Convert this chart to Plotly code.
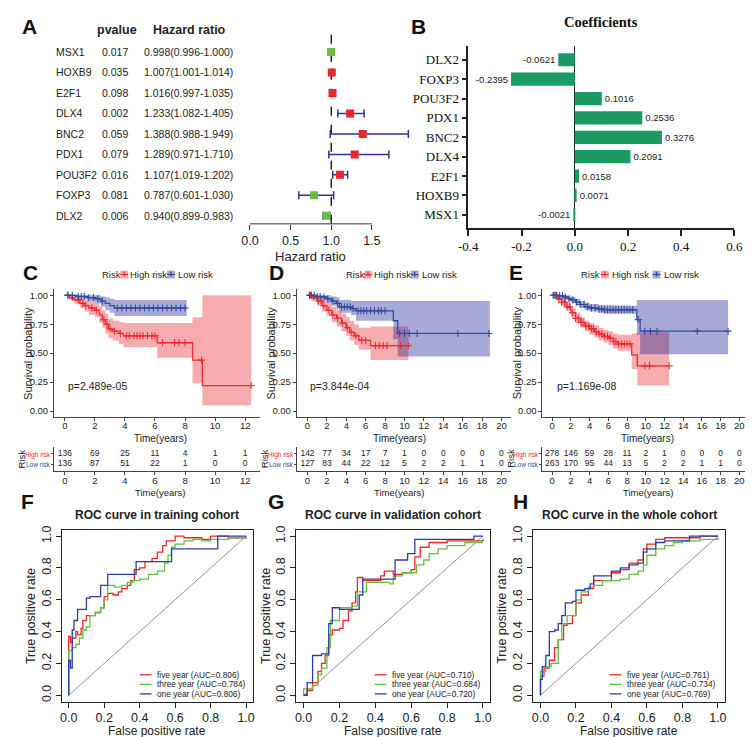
import numpy as np
import plotly.graph_objects as go

W, H = 753, 737

# ---------------- Panel A : univariate Cox forest ----------------
genes_a = ["MSX1", "HOXB9", "E2F1", "DLX4", "BNC2", "PDX1", "POU3F2", "FOXP3", "DLX2"]
pvals_a = ["0.017", "0.035", "0.098", "0.002", "0.059", "0.079", "0.016", "0.081", "0.006"]
hr_a = [0.998, 1.007, 1.016, 1.233, 1.388, 1.289, 1.107, 0.787, 0.940]
hr_lo = [0.996, 1.001, 0.997, 1.082, 0.988, 0.971, 1.019, 0.601, 0.899]
hr_hi = [1.000, 1.014, 1.035, 1.405, 1.949, 1.710, 1.202, 1.030, 0.983]
hr_ticks = [0.0, 0.5, 1.0, 1.5]

# ---------------- Panel B : coefficients ----------------
genes_b = ["DLX2", "FOXP3", "POU3F2", "PDX1", "BNC2", "DLX4", "E2F1", "HOXB9", "MSX1"]
coef_b = [-0.0621, -0.2395, 0.1016, 0.2536, 0.3276, 0.2091, 0.0158, 0.0071, -0.0021]
coef_ticks = [-0.4, -0.2, 0.0, 0.2, 0.4, 0.6]

# ---------------- Panels C-E : Kaplan-Meier ----------------
C_high_t = [0, 0.3, 0.6, 1.0, 1.3, 1.6, 2.0, 2.3, 2.5, 2.7, 2.9, 3.2, 3.6, 3.9, 6.15, 8.5, 9.15, 12.4]
C_high_s = [1.0, 0.98, 0.96, 0.93, 0.91, 0.89, 0.87, 0.83, 0.79, 0.75, 0.71, 0.69, 0.67, 0.65, 0.59, 0.44, 0.22, 0.22]
C_high_lo = [1.0, 0.96, 0.93, 0.89, 0.86, 0.83, 0.81, 0.76, 0.72, 0.67, 0.63, 0.61, 0.58, 0.55, 0.46, 0.24, 0.05, 0.05]
C_high_hi = [1.0, 1.0, 0.99, 0.97, 0.96, 0.95, 0.93, 0.9, 0.87, 0.84, 0.8, 0.78, 0.77, 0.76, 0.76, 0.81, 1.0, 1.0]
C_high_cens = [0.2, 0.5, 0.9, 1.2, 1.4, 1.8, 2.1, 2.6, 2.8, 3.0, 3.3, 3.7, 4.1, 4.3, 4.6, 4.8, 5.0, 5.2,
               5.5, 5.8, 6.0, 6.5, 7.3, 7.6, 8.0, 9.1, 12.4]
C_low_t = [0, 0.8, 1.5, 2.0, 2.4, 2.7, 3.0, 3.3, 8.1]
C_low_s = [1.0, 0.99, 0.98, 0.97, 0.95, 0.93, 0.91, 0.89, 0.89]
C_low_lo = [1.0, 0.97, 0.95, 0.93, 0.9, 0.87, 0.85, 0.82, 0.82]
C_low_hi = [1.0, 1.0, 1.0, 1.0, 0.99, 0.98, 0.97, 0.96, 0.96]
C_low_cens = [0.2, 0.5, 0.9, 1.1, 1.3, 1.6, 1.9, 2.2, 2.5, 3.5, 3.8, 4.1, 4.4, 4.7, 5.0, 5.3, 5.6, 5.9,
              6.2, 6.5, 6.8, 7.1, 7.4, 7.7, 8.0]

D_high_t = [0, 0.5, 1.0, 1.5, 2.0, 2.5, 3.0, 3.5, 4.0, 4.35, 4.8, 5.3, 6.5, 10.4]
D_high_s = [1.0, 0.98, 0.95, 0.91, 0.87, 0.83, 0.80, 0.76, 0.72, 0.68, 0.65, 0.61, 0.565, 0.565]
D_high_lo = [1.0, 0.96, 0.91, 0.86, 0.82, 0.77, 0.73, 0.69, 0.65, 0.61, 0.57, 0.53, 0.44, 0.44]
D_high_hi = [1.0, 1.0, 0.99, 0.96, 0.93, 0.9, 0.87, 0.84, 0.81, 0.78, 0.75, 0.72, 0.73, 0.73]
D_high_cens = [0.3, 0.6, 1.1, 1.4, 1.7, 2.2, 2.6, 3.1, 3.6, 4.1, 4.5, 5.0, 5.6, 6.0, 7.0, 7.4, 7.8, 8.2,
               9.6, 10.4]
D_low_t = [0, 0.8, 1.5, 2.0, 2.5, 3.0, 3.3, 4.5, 5.0, 8.85, 9.3, 18.8]
D_low_s = [1.0, 0.99, 0.985, 0.97, 0.95, 0.93, 0.90, 0.885, 0.866, 0.78, 0.67, 0.67]
D_low_lo = [1.0, 0.97, 0.96, 0.93, 0.91, 0.88, 0.85, 0.83, 0.78, 0.62, 0.47, 0.47]
D_low_hi = [1.0, 1.0, 1.0, 1.0, 0.99, 0.98, 0.96, 0.95, 0.95, 0.95, 0.95, 0.95]
D_low_cens = [0.2, 0.4, 0.7, 1.0, 1.3, 1.7, 2.1, 2.6, 3.1, 3.5, 3.8, 4.1, 4.4, 4.7, 5.2, 5.5, 5.8, 6.1,
              6.5, 6.9, 7.3, 7.6, 8.0, 9.5, 10.0, 10.5, 11.3, 15.5, 18.7]

E_high_t = [0, 0.5, 1.0, 1.5, 2.0, 2.5, 3.0, 3.5, 4.0, 4.5, 5.0, 5.5, 6.0, 6.5, 7.0, 8.5, 9.1, 12.5]
E_high_s = [1.0, 0.97, 0.94, 0.9, 0.85, 0.8, 0.765, 0.735, 0.71, 0.685, 0.665, 0.645, 0.63, 0.6, 0.58, 0.485, 0.39, 0.39]
E_high_lo = [1.0, 0.95, 0.91, 0.87, 0.81, 0.76, 0.72, 0.69, 0.66, 0.635, 0.61, 0.59, 0.57, 0.54, 0.52, 0.36, 0.22, 0.22]
E_high_hi = [1.0, 0.99, 0.97, 0.94, 0.89, 0.85, 0.81, 0.78, 0.76, 0.74, 0.72, 0.70, 0.69, 0.67, 0.66, 0.67, 0.68, 0.68]
E_high_cens = [0.2, 0.4, 0.7, 1.0, 1.3, 1.6, 1.9, 2.2, 2.5, 2.8, 3.1, 3.3, 3.6, 3.9, 4.2, 4.4, 4.7, 5.0,
               5.3, 5.6, 5.9, 6.2, 6.6, 6.8, 7.1, 7.4, 7.7, 8.0, 8.3, 9.9, 10.4, 12.5]
E_low_t = [0, 0.7, 1.2, 1.7, 2.0, 2.5, 3.0, 3.5, 4.0, 5.0, 5.5, 9.05, 9.4, 18.8]
E_low_s = [1.0, 0.995, 0.985, 0.97, 0.96, 0.94, 0.92, 0.90, 0.89, 0.88, 0.875, 0.79, 0.69, 0.69]
E_low_lo = [1.0, 0.985, 0.97, 0.95, 0.94, 0.915, 0.89, 0.87, 0.86, 0.85, 0.84, 0.66, 0.49, 0.49]
E_low_hi = [1.0, 1.0, 1.0, 0.99, 0.985, 0.97, 0.95, 0.935, 0.925, 0.915, 0.91, 0.96, 0.96, 0.96]
E_low_cens = [0.1, 0.3, 0.5, 0.8, 1.1, 1.4, 1.8, 2.2, 2.6, 3.0, 3.4, 3.8, 4.2, 4.6, 5.0, 5.3, 5.6, 5.9,
              6.2, 6.5, 6.8, 7.1, 7.4, 7.7, 8.0, 8.3, 8.6, 9.2, 9.9, 10.5, 11.2, 15.5, 18.8]

pvalue_text = ["p=2.489e-05", "p=3.844e-04", "p=1.169e-08"]
km_ticks_C = [0, 2, 4, 6, 8, 10, 12]
km_ticks_DE = [0, 2, 4, 6, 8, 10, 12, 14, 16, 18, 20]
surv_ticks = [0.0, 0.25, 0.5, 0.75, 1.0]
surv_ticklabels = ["0.00", "0.25", "0.50", "0.75", "1.00"]

# risk tables
risk_C_high = [136, 69, 25, 11, 4, 1, 1]
risk_C_low = [136, 87, 51, 22, 1, 0, 0]
risk_D_high = [142, 77, 34, 17, 7, 1, 0, 0, 0, 0, 0]
risk_D_low = [127, 83, 44, 22, 12, 5, 2, 2, 1, 1, 0]
risk_E_high = [278, 146, 59, 28, 11, 2, 1, 0, 0, 0, 0]
risk_E_low = [263, 170, 95, 44, 13, 5, 2, 2, 1, 1, 0]

# ---------------- Panels F-H : ROC ----------------
F_five_fpr = [0, 0, 0.01, 0.02, 0.04, 0.05, 0.07, 0.08, 0.1, 0.12, 0.15, 0.18, 0.2, 0.22, 0.25, 0.28, 0.3, 0.33,
              0.35, 0.37, 0.4, 0.43, 0.47, 0.5, 0.53, 0.55, 0.6, 0.65, 0.7, 0.75, 0.8, 0.85, 0.9, 0.95, 1.0]
F_five_tpr = [0, 0.37, 0.33, 0.36, 0.4, 0.38, 0.42, 0.47, 0.5, 0.5, 0.52, 0.55, 0.62, 0.64, 0.63, 0.65, 0.67, 0.69,
              0.72, 0.79, 0.8, 0.84, 0.86, 0.9, 0.94, 0.97, 1.0, 0.99, 0.99, 0.98, 1.0, 1.0, 0.99, 0.99, 1.0]
F_three_fpr = [0, 0, 0.02, 0.04, 0.06, 0.08, 0.1, 0.12, 0.15, 0.18, 0.2, 0.22, 0.26, 0.3, 0.33, 0.36, 0.4, 0.45,
               0.5, 0.54, 0.56, 0.58, 0.6, 0.65, 0.7, 0.75, 0.8, 0.9, 1.0]
F_three_tpr = [0, 0.28, 0.3, 0.32, 0.36, 0.41, 0.43, 0.5, 0.52, 0.55, 0.6, 0.69, 0.68, 0.69, 0.71, 0.72, 0.73, 0.76,
               0.78, 0.83, 0.88, 0.93, 0.95, 0.97, 0.98, 0.97, 0.98, 0.99, 1.0]
F_one_fpr = [0, 0, 0.01, 0.02, 0.02, 0.03, 0.05, 0.1, 0.12, 0.18, 0.22, 0.38, 0.58, 0.84, 1.0]
F_one_tpr = [0, 0.22, 0.17, 0.17, 0.41, 0.47, 0.54, 0.61, 0.62, 0.69, 0.76, 0.84, 0.92, 1.0, 1.0]

G_five_fpr = [0, 0.02, 0.05, 0.08, 0.1, 0.12, 0.14, 0.16, 0.2, 0.22, 0.25, 0.27, 0.29, 0.3, 0.33, 0.4, 0.43,
              0.45, 0.5, 0.55, 0.6, 0.62, 0.65, 0.7, 0.8, 0.9, 1.0]
G_five_tpr = [0, 0.03, 0.08, 0.15, 0.2, 0.25, 0.38, 0.41, 0.42, 0.47, 0.53, 0.58, 0.65, 0.74, 0.72, 0.72, 0.75,
              0.78, 0.76, 0.77, 0.79, 0.87, 0.93, 0.96, 0.97, 0.97, 0.98]
G_three_fpr = [0, 0, 0.05, 0.08, 0.1, 0.13, 0.15, 0.2, 0.27, 0.3, 0.35, 0.45, 0.48, 0.5, 0.55, 0.6, 0.63, 0.67,
               0.7, 0.75, 0.8, 0.9, 1.0]
G_three_tpr = [0, 0.04, 0.06, 0.13, 0.17, 0.3, 0.47, 0.55, 0.56, 0.65, 0.71, 0.71, 0.7, 0.75, 0.77, 0.77, 0.82,
               0.85, 0.89, 0.92, 0.94, 0.96, 0.96]
G_one_fpr = [0, 0.02, 0.05, 0.1, 0.14, 0.16, 0.2, 0.31, 0.33, 0.5, 0.51, 0.58, 0.62, 0.7, 0.95, 1.0]
G_one_tpr = [0, 0.08, 0.25, 0.26, 0.45, 0.55, 0.54, 0.63, 0.73, 0.73, 0.85, 0.89, 0.98, 0.98, 1.0, 1.0]

H_five_fpr = [0, 0, 0.02, 0.05, 0.08, 0.1, 0.13, 0.15, 0.18, 0.2, 0.23, 0.27, 0.3, 0.35, 0.4, 0.45, 0.5, 0.55,
              0.58, 0.6, 0.65, 0.7, 0.8, 0.9, 1.0]
H_five_tpr = [0, 0.12, 0.17, 0.22, 0.3, 0.35, 0.44, 0.45, 0.5, 0.58, 0.63, 0.67, 0.72, 0.72, 0.77, 0.79, 0.83,
              0.85, 0.92, 0.95, 0.98, 0.99, 0.99, 1.0, 1.0]
H_three_fpr = [0, 0, 0.03, 0.06, 0.1, 0.12, 0.15, 0.2, 0.23, 0.27, 0.3, 0.35, 0.4, 0.45, 0.5, 0.55, 0.58, 0.6,
               0.65, 0.7, 0.75, 0.8, 0.9, 1.0]
H_three_tpr = [0, 0.15, 0.18, 0.2, 0.35, 0.45, 0.5, 0.6, 0.65, 0.68, 0.69, 0.72, 0.72, 0.73, 0.76, 0.78, 0.82,
               0.88, 0.92, 0.94, 0.96, 0.97, 0.98, 0.99]
H_one_fpr = [0, 0, 0.01, 0.03, 0.05, 0.08, 0.1, 0.12, 0.14, 0.18, 0.2, 0.25, 0.28, 0.3, 0.35, 0.4, 0.45, 0.5,
             0.55, 0.58, 0.6, 0.65, 0.7, 0.84, 1.0]
H_one_tpr = [0, 0.1, 0.18, 0.25, 0.4, 0.41, 0.45, 0.5, 0.58, 0.59, 0.66, 0.67, 0.7, 0.75, 0.75, 0.78, 0.8, 0.82,
             0.83, 0.9, 0.92, 0.96, 0.97, 1.0, 1.0]

auc_F = [0.806, 0.784, 0.806]
auc_G = [0.710, 0.684, 0.720]
auc_H = [0.761, 0.734, 0.769]
roc_names = ["five year", "three year", "one year"]
roc_titles = ["ROC curve in training cohort", "ROC curve in validation cohort", "ROC curve in the whole cohort"]
roc_ticks = [0.0, 0.2, 0.4, 0.6, 0.8, 1.0]
diag = [0.0, 1.0]

# ---------------- styling ----------------
SANS = "Liberation Sans, Arial, sans-serif"
SERIF = "Liberation Serif, Times New Roman, serif"
RED_F, GREEN_F, NAVY = "#e8262b", "#6abd45", "#2e3192"
GREEN_B = "#1b9a64"
KM_RED, KM_BLUE = "#ec2a2f", "#2f4ea3"
KM_RED_FILL, KM_BLUE_FILL = "rgba(232,38,43,0.38)", "rgba(40,40,150,0.40)"
ROC_COLS = ["#f22525", "#62c141", "#2b3ea6"]
TXT = "#222222"


def xd(a, b):
    return [a / W, b / W]


def yd(top, bottom):
    return [1 - bottom / H, 1 - top / H]


def pxx(x):
    return x / W


def pxy(y):
    return 1 - y / H


annotations = []
shapes = []


def ann(text, x, y, size, color=TXT, family=SANS, xanchor="center", yanchor="middle", angle=0):
    annotations.append(dict(text=text, x=pxx(x), y=pxy(y), xref="paper", yref="paper", showarrow=False,
                            xanchor=xanchor, yanchor=yanchor, textangle=angle, borderpad=0,
                            font=dict(size=size, color=color, family=family)))


def hline(x0, x1, y, color, width=1.0):
    shapes.append(dict(type="line", xref="paper", yref="paper", x0=pxx(x0), x1=pxx(x1), y0=pxy(y), y1=pxy(y),
                       line=dict(color=color, width=width)))


def vline(x, y0, y1, color, width=1.0):
    shapes.append(dict(type="line", xref="paper", yref="paper", x0=pxx(x), x1=pxx(x), y0=pxy(y0), y1=pxy(y1),
                       line=dict(color=color, width=width)))


fig = go.Figure()
lay = {}

# ===================== Panel A =====================
A_x0, A_scale = 238.0, 83.33
A_rng = [-0.1, 2.0]
lay["xaxis"] = dict(domain=xd(A_x0 + A_rng[0] * A_scale, A_x0 + A_rng[1] * A_scale), range=A_rng, anchor="y",
                    tickvals=hr_ticks, ticktext=[f"{v:.1f}" for v in hr_ticks], ticks="outside", ticklen=5,
                    tickcolor="#333", showline=False, showgrid=False, zeroline=False,
                    tickfont=dict(size=12.5, family=SANS, color=TXT))
lay["yaxis"] = dict(domain=yd(15, 213), range=[-0.39, 9.22], anchor="x", showticklabels=False, ticks="",
                    showline=False, showgrid=False, zeroline=False)
rows_a = [8 - i for i in range(len(genes_a))]
shapes.append(dict(type="line", xref="x", yref="paper", x0=1.0, x1=1.0, y0=pxy(213), y1=pxy(15),
                   line=dict(color="black", width=1.3, dash="dash"), layer="below"))
shapes.append(dict(type="line", xref="x", yref="paper", x0=hr_ticks[0], x1=hr_ticks[-1], y0=pxy(213), y1=pxy(213),
                   line=dict(color="#333", width=1)))
fig.add_trace(go.Scatter(
    x=hr_a, y=rows_a, mode="markers", xaxis="x", yaxis="y",
    marker=dict(symbol="square", size=8, color=[RED_F if h > 1 else GREEN_F for h in hr_a]),
    error_x=dict(type="data", symmetric=False, array=[h - m for h, m in zip(hr_hi, hr_a)],
                 arrayminus=[m - l for m, l in zip(hr_a, hr_lo)], color=NAVY, thickness=1.5, width=4)))
row_px = [205 - 20.6 * r for r in rows_a]
for g, p, h, l, u, yy in zip(genes_a, pvals_a, hr_a, hr_lo, hr_hi, row_px):
    ann(g, 38, yy, 10.5, xanchor="left")
    ann(p, 85, yy, 10.5, xanchor="left")
    ann(f"{h:.3f}({l:.3f}-{u:.3f})", 128, yy, 10.5, xanchor="left")
ann("<b>pvalue</b>", 102, 18, 12.5)
ann("<b>Hazard ratio</b>", 176, 18, 12.5)
ann("Hazard ratio", 300, 246, 13)

# ===================== Panel B =====================
lay["xaxis2"] = dict(domain=xd(462, 735), range=[-0.4, 0.6], anchor="y2", tickvals=coef_ticks,
                     ticktext=[f"{v:.1f}" for v in coef_ticks], ticks="outside", ticklen=6, tickwidth=1.5,
                     tickcolor="#222", showline=True, linecolor="#222", linewidth=1.5, showgrid=False,
                     zeroline=True, zerolinecolor="#222", zerolinewidth=1.3,
                     tickfont=dict(size=13, family=SERIF, color="#111"))
lay["yaxis2"] = dict(domain=yd(34, 217), range=[-0.67, 8.72], anchor="x2", tickvals=[8 - i for i in range(9)],
                     ticktext=genes_b, ticks="outside", ticklen=5, tickwidth=1.5, tickcolor="#222",
                     showline=True, linecolor="#222", linewidth=1.5, showgrid=False, zeroline=False,
                     tickfont=dict(size=13, family=SERIF, color="#111"))
fig.add_trace(go.Bar(x=coef_b, y=[8 - i for i in range(9)], orientation="h", width=0.68,
                     marker=dict(color=GREEN_B, line=dict(width=0)), xaxis="x2", yaxis="y2",
                     text=[f"{v:.4f}" for v in coef_b], textposition="outside", cliponaxis=False,
                     constraintext="none", textfont=dict(size=9.5, family=SANS, color=TXT)))
ann("<b>Coefficients</b>", 598, 10, 14.5, family=SERIF, color="#111")


# ===================== Panels C-E : KM =====================
def step_pts(t, v):
    xs, ys = [], []
    for i in range(len(t)):
        if i > 0:
            xs.append(t[i])
            ys.append(v[i - 1])
        xs.append(t[i])
        ys.append(v[i])
    return xs, ys


def surv_at(t, s, tc):
    idx = np.searchsorted(np.array(t), np.array(tc), side="right") - 1
    return [s[i] for i in idx]


km_panels = [
    dict(ax="3", x0=48.0, scale=15.42, dom=(37, 248), ticks=km_ticks_C,
         groups=[(C_high_t, C_high_s, C_high_lo, C_high_hi, C_high_cens, KM_RED, KM_RED_FILL),
                 (C_low_t, C_low_s, C_low_lo, C_low_hi, C_low_cens, KM_BLUE, KM_BLUE_FILL)],
         risk=(risk_C_high, risk_C_low), rax="6", ylab_x=10, p_x=50, risk_lab_x=4, tcx=146),
    dict(ax="4", x0=297.0, scale=9.95, dom=(286, 506), ticks=km_ticks_DE,
         groups=[(D_high_t, D_high_s, D_high_lo, D_high_hi, D_high_cens, KM_RED, KM_RED_FILL),
                 (D_low_t, D_low_s, D_low_lo, D_low_hi, D_low_cens, KM_BLUE, KM_BLUE_FILL)],
         risk=(risk_D_high, risk_D_low), rax="7", ylab_x=260, p_x=299, risk_lab_x=253, tcx=391),
    dict(ax="5", x0=548.0, scale=9.6, dom=(538, 750), ticks=km_ticks_DE,
         groups=[(E_high_t, E_high_s, E_high_lo, E_high_hi, E_high_cens, KM_RED, KM_RED_FILL),
                 (E_low_t, E_low_s, E_low_lo, E_low_hi, E_low_cens, KM_BLUE, KM_BLUE_FILL)],
         risk=(risk_E_high, risk_E_low), rax="8", ylab_x=512, p_x=552, risk_lab_x=505, tcx=646),
]

for k, P in enumerate(km_panels):
    a, r = P["ax"], P["rax"]
    xr = [(P["dom"][0] - P["x0"]) / P["scale"], (P["dom"][1] - P["x0"]) / P["scale"]]
    common_x = dict(domain=xd(*P["dom"]), range=xr, tickvals=P["ticks"], ticktext=[str(v) for v in P["ticks"]],
                    ticks="outside", ticklen=3, tickcolor="#444", showline=True, linecolor="#444", linewidth=1,
                    showgrid=False, zeroline=False, ticklabelstandoff=-3,
                    tickfont=dict(size=9.5, family=SANS, color=TXT))
    lay["xaxis" + a] = dict(common_x, anchor="y" + a)
    lay["yaxis" + a] = dict(domain=yd(279, 407), range=[-0.05, 1.05], anchor="x" + a, tickvals=surv_ticks,
                            ticktext=surv_ticklabels, ticks="outside", ticklen=3, tickcolor="#444",
                            showline=True, linecolor="#444", linewidth=1, showgrid=False, zeroline=False,
                            tickfont=dict(size=9.5, family=SANS, color=TXT))
    for (t, s, lo, hi, cens, col, fill) in P["groups"]:
        xu, yu = step_pts(t, hi)
        xl, yl = step_pts(t, lo)
        fig.add_trace(go.Scatter(x=xu + xl[::-1], y=yu + yl[::-1], fill="toself", fillcolor=fill,
                                 line=dict(width=0), mode="lines", xaxis="x" + a, yaxis="y" + a,
                                 hoverinfo="skip"))
    for (t, s, lo, hi, cens, col, fill) in P["groups"]:
        fig.add_trace(go.Scatter(x=t, y=s, mode="lines", line=dict(color=col, width=1.3, shape="hv"),
                                 xaxis="x" + a, yaxis="y" + a))
        fig.add_trace(go.Scatter(x=cens, y=surv_at(t, s, cens), mode="markers",
                                 marker=dict(symbol="cross-thin", size=5, line=dict(color=col, width=1.1)),
                                 xaxis="x" + a, yaxis="y" + a))
    ann("Survival probability", P["ylab_x"], 343, 11, angle=-90)
    ann(pvalue_text[k], P["p_x"], 376, 10.5, xanchor="left")
    ann("Time(years)", P["tcx"], 429, 10)

    # risk table
    lay["xaxis" + r] = dict(common_x, anchor="y" + r)
    lay["yaxis" + r] = dict(domain=yd(437, 462), range=[-0.7, 1.7], anchor="x" + r, tickvals=[0, 1],
                            showticklabels=False, ticks="outside", ticklen=2, tickcolor="#444", showline=True,
                            linecolor="#444", linewidth=1, showgrid=False, zeroline=False)
    high, low = P["risk"]
    fig.add_trace(go.Scatter(x=P["ticks"], y=[1] * len(high), mode="text", text=[str(v) for v in high],
                             textfont=dict(size=8.5, family=SANS, color=TXT), xaxis="x" + r, yaxis="y" + r))
    fig.add_trace(go.Scatter(x=P["ticks"], y=[0] * len(low), mode="text", text=[str(v) for v in low],
                             textfont=dict(size=8.5, family=SANS, color=TXT), xaxis="x" + r, yaxis="y" + r))
    ann("High risk", P["dom"][0] - 2, 445, 6.5, color=KM_RED, xanchor="right")
    ann("Low risk", P["dom"][0] - 2, 455, 6.5, color=KM_BLUE, xanchor="right")
    ann("Risk", P["risk_lab_x"], 449, 9.5, angle=-90)
    ann("Time(years)", P["tcx"], 483.5, 9.5)


# KM legends
def km_legend(x_risk, x_k1, x_t1, x_k2, x_t2, y=264):
    ann("Risk", x_risk, y, 9.5, xanchor="left")
    for xk, col, fill in [(x_k1, KM_RED, KM_RED_FILL), (x_k2, KM_BLUE, KM_BLUE_FILL)]:
        shapes.append(dict(type="rect", xref="paper", yref="paper", x0=pxx(xk), x1=pxx(xk + 8),
                           y0=pxy(y + 4), y1=pxy(y - 4), fillcolor=fill, line=dict(width=0)))
        hline(xk, xk + 8, y, col, 1.2)
        vline(xk + 4, y - 3, y + 2, col, 1.2)
    ann("High risk", x_t1, y, 9.5, xanchor="left")
    ann("Low risk", x_t2, y, 9.5, xanchor="left")


km_legend(85, 105, 114, 153, 163)
km_legend(335, 355, 364, 403, 413)
km_legend(577, 598, 608, 651, 662)

# ===================== Panels F-H : ROC =====================
roc_panels = [
    dict(ax="9", x0=52.0, x1=234.0, curves=[(F_five_fpr, F_five_tpr), (F_three_fpr, F_three_tpr),
                                            (F_one_fpr, F_one_tpr)], auc=auc_F, leg=(125, 142)),
    dict(ax="10", x0=293.0, x1=477.0, curves=[(G_five_fpr, G_five_tpr), (G_three_fpr, G_three_tpr),
                                              (G_one_fpr, G_one_tpr)], auc=auc_G, leg=(366, 383)),
    dict(ax="11", x0=536.0, x1=718.0, curves=[(H_five_fpr, H_five_tpr), (H_three_fpr, H_three_tpr),
                                              (H_one_fpr, H_one_tpr)], auc=auc_H, leg=(607, 624)),
]
for k, P in enumerate(roc_panels):
    a = P["ax"]
    sc = P["x1"] - P["x0"]
    lay["xaxis" + a] = dict(domain=xd(P["x0"] - 0.04 * sc, P["x1"] + 0.04 * sc), range=[-0.04, 1.04],
                            anchor="y" + a, tickvals=roc_ticks, ticktext=[f"{v:.1f}" for v in roc_ticks],
                            ticks="outside", ticklen=5, tickcolor="#222", showline=True, mirror=True,
                            linecolor="#222", linewidth=1, showgrid=False, zeroline=False, ticklabelstandoff=-1,
                            tickfont=dict(size=12.5, family=SANS, color=TXT))
    lay["yaxis" + a] = dict(domain=yd(520.6, 693.4), range=[-0.04, 1.04], anchor="x" + a, tickvals=roc_ticks,
                            ticktext=[f"{v:.1f}" for v in roc_ticks], tickangle=-90, ticks="outside", ticklen=5,
                            tickcolor="#222", showline=True, mirror=True, linecolor="#222", linewidth=1,
                            showgrid=False, zeroline=False, tickfont=dict(size=12.5, family=SANS, color=TXT))
    fig.add_trace(go.Scatter(x=diag, y=diag, mode="lines", line=dict(color="#777", width=0.8),
                             xaxis="x" + a, yaxis="y" + a))
    for (fx, ty), col in zip(P["curves"], ROC_COLS):
        fig.add_trace(go.Scatter(x=fx, y=ty, mode="lines", line=dict(color=col, width=1.3, shape="hv"),
                                 xaxis="x" + a, yaxis="y" + a))
    cx = (P["x0"] + P["x1"]) / 2
    ann(f"<b>{roc_titles[k]}</b>", cx, 506, 12)
    ann("False positive rate", cx, 723, 12)
    ann("True positive rate", P["x0"] - 7.3 - 32, 607, 12.5, angle=-90)
    lx, tx = P["leg"]
    for j, (nm, au, col) in enumerate(zip(roc_names, P["auc"], ROC_COLS)):
        yy = 666.4 + 9.6 * j
        hline(lx, lx + 12, yy, col, 1.3)
        ann(f"{nm} (AUC={au:.3f})", tx, yy, 8.3, xanchor="left")

# panel letters
for letter, x, y in [("A", 3, 15), ("B", 402, 15), ("C", 4, 262), ("D", 256, 262), ("E", 503, 262),
                     ("F", 2, 492), ("G", 255, 492), ("H", 507, 492)]:
    ann(f"<b>{letter}</b>", x, y, 21, color="#111", xanchor="left")

fig.update_layout(width=W, height=H, margin=dict(l=0, r=0, t=0, b=0), paper_bgcolor="white",
                  plot_bgcolor="white", showlegend=False, annotations=annotations, shapes=shapes, **lay)
fig.write_html("out.html")
